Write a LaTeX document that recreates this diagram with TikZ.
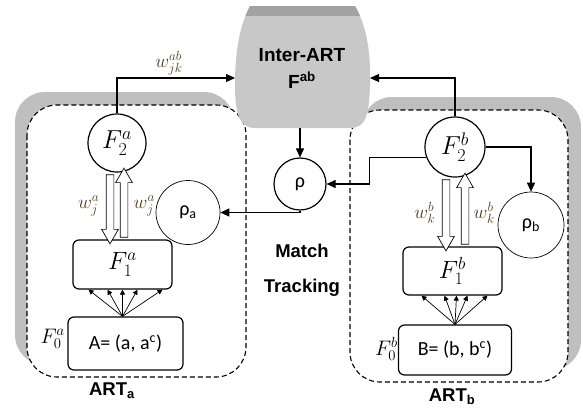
\documentclass[tikz,border=0pt]{standalone}
\usepackage{fix-cm}
\usepackage{fontspec}
\setmainfont{Carlito}
\newfontfamily\headfont{Liberation Sans}
\usepackage{tikz}
\usetikzlibrary{calc,shapes,positioning,arrows.meta}
\definecolor{shadowColor}{RGB}{191, 191, 191}
\definecolor{fieldColor}{RGB}{200, 200, 200}
\definecolor{capColor}{RGB}{162, 162, 162}
\definecolor{labelColor}{RGB}{80, 62, 28}

\tikzset{
  layer/.style={draw, circle, line width=1.2pt, fill=white, inner sep=0pt, font=\fontsize{26}{26}\selectfont},
  field/.style={draw, rounded corners=6pt, line width=1.2pt, fill=white},
  vigil/.style={draw, circle, line width=0.7pt, inner sep=0pt, fill=white, font=\fontsize{20}{20}\selectfont},
  link/.style={line width=1.1pt, -{Triangle[length=9pt,width=8pt]}},
  fan/.style={line width=0.7pt, -{Triangle[length=5pt,width=5pt]}},
  weight/.style={draw, fill=white, line width=0.7pt, single arrow, inner xsep=0pt, inner ysep=3.5pt,
    single arrow head extend=4.5pt, single arrow tip angle=60, minimum width=16pt},
  wlabel/.style={text=labelColor, inner sep=0.5pt, font=\fontsize{19}{19}\selectfont},
  module/.style={draw, dash pattern=on 5pt off 3pt, line width=1.1pt, rounded corners=30pt, fill=white},
  headline/.style={font=\headfont\bfseries\fontsize{18.5}{22}\selectfont},
}

\begin{document}
\begin{tikzpicture}[x=1pt, y=-1pt]
  \useasboundingbox (0,0) rectangle (583,410);

  % ART modules with their shadows
  \fill[shadowColor, rounded corners=30pt] (15,92) rectangle (234,365);
  \draw[module] (27,105) rectangle (246,377);
  \fill[shadowColor, rounded corners=30pt] (362,97) rectangle (581,370);
  \draw[module] (350,110) rectangle (568,382);

  % Inter-ART field
  \begin{scope}
    \path[clip] (250,6) -- (355,6) .. controls (366,25) and (371,50) .. (370,85)
      .. controls (369,115) and (366,128) .. (350,128) -- (255,128)
      .. controls (240,128) and (235,115) .. (235,85) .. controls (235,50) and (240,25) .. (250,6) -- cycle;
    \fill[fieldColor] (230,0) rectangle (380,130);
    \fill[capColor] (230,0) rectangle (380,16);
  \end{scope}
  \node[headline, align=center, font=\headfont\bfseries\fontsize{19}{27}\selectfont] (fab) at (302,68)
    {Inter-ART\\F\textsuperscript{ab}};
  \coordinate (fabL) at (235,78);
  \coordinate (fabR) at (370,78);
  \coordinate (fabS) at (300,128);

  % ART_a
  \node[layer, minimum size=58pt] (F2a) at (117,143) {$F_2^a$};
  \node[field, minimum width=99pt, minimum height=49pt, font=\fontsize{25}{25}\selectfont] (F1a) at (122.5,264.5) {$F_1^a$};
  \node[field, minimum width=115pt, minimum height=53pt, font=\fontsize{20}{20}\selectfont] (F0a) at (125.5,343.5) {A= (a, a\textsuperscript{c})};
  \node[font=\fontsize{21}{21}\selectfont, anchor=east, inner sep=1pt] (F0aname) at (66,339) {$F_0^a$};
  \node[vigil, minimum size=64pt] (rhoa) at (188,212.5) {ρ\textsubscript{a}};
  \node[weight, rotate=-90, minimum height=69pt] (wdowna) at ($(F2a.south)!0.5!(F1a.north)+(-9.75,0)$) {};
  \node[weight, rotate=90, minimum height=69pt] (wupa) at ($(F2a.south)!0.5!(F1a.north)+(4.25,0)$) {};
  \node[wlabel, anchor=east] (wja) at (100,206) {$w_j^a$};
  \node[wlabel, anchor=west] (wjaup) at (133,206) {$w_j^a$};
  \foreach \dx in {-34,-15,0,15,40}
    \draw[fan] (F1a.south |- F0a.north) -- ($(F1a.south)+(\dx,0)$);
  \node[headline] (arta) at (112,391) {ART\textsubscript{a}};

  % ART_b
  \node[layer, minimum size=60pt] (F2b) at (455,147) {$F_2^b$};
  \node[field, minimum width=99pt, minimum height=48pt, font=\fontsize{25}{25}\selectfont] (F1b) at (452.5,271) {$F_1^b$};
  \node[field, minimum width=113pt, minimum height=50pt, font=\fontsize{20}{20}\selectfont] (F0b) at (455,350) {B= (b, b\textsuperscript{c})};
  \node[font=\fontsize{21}{21}\selectfont, anchor=east, inner sep=1pt] (F0bname) at (399,349) {$F_0^b$};
  \node[vigil, minimum size=66pt] (rhob) at (531,225) {ρ\textsubscript{b}};
  \node[weight, rotate=-90, minimum height=71pt] (wdownb) at ($(F2b.south)!0.5!(F1b.north)+(-7.75,0)$) {};
  \node[weight, rotate=90, minimum height=71pt] (wupb) at ($(F2b.south)!0.5!(F1b.north)+(11.25,0)$) {};
  \node[wlabel, anchor=east] (wkb) at (436,213) {$w_k^b$};
  \node[wlabel, anchor=west] (wkbup) at (473,213) {$w_k^b$};
  \foreach \dx in {-31,-8,4,15,35}
    \draw[fan] (F0b.north) -- ($(F1b.south)+(\dx,0)$);
  \node[headline] (artb) at (452,397) {ART\textsubscript{b}};

  % match tracking
  \node[layer, minimum size=52pt, font=\fontsize{20}{20}\selectfont] (rho) at (300,184) {ρ};
  \node[headline, align=center, font=\headfont\bfseries\fontsize{18.5}{35}\selectfont] (match) at (302,270) {Match\\Tracking};

  % connectors
  \draw[link] (F2a.north) |- (fabL) node[wlabel, pos=0.72, above=2pt] (wab) {$w_{jk}^{ab}$};
  \draw[link] (F2b.north) |- (fabR);
  \draw[link] (fabS) -- (rho.north);
  \draw[link] (rho.south) |- (rhoa.east);
  \draw[link] (F2b.200) -- ++(-57,0) |- (rho.east);
  \draw[link] (F2b.east) -| (rhob.north);
\end{tikzpicture}
\end{document}
